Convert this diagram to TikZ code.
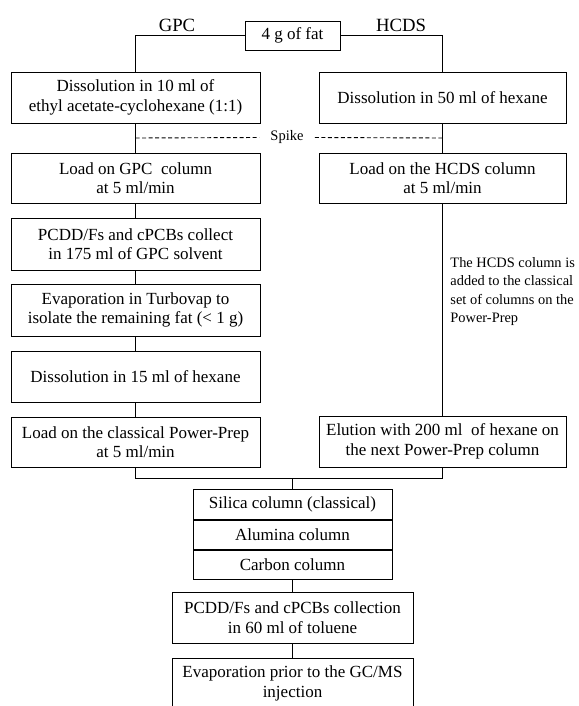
\documentclass[tikz,border=0pt]{standalone}
\usepackage{fontspec}
\setmainfont{Liberation Serif}
\usetikzlibrary{calc}
\begin{document}
\begin{tikzpicture}[x=1pt,y=-1pt,
  line width=0.9pt,
  box/.style={draw, line width=0.9pt, align=center, inner sep=0pt,
    font=\fontsize{17}{19.5}\selectfont, minimum height=51pt},
  lbox/.style={box, minimum width=249pt},
  rbox/.style={box, minimum width=247pt},
  cbox/.style={box, minimum width=199pt, minimum height=29pt},
  lab/.style={inner sep=0pt, font=\fontsize{18.7}{20}\selectfont},
  conn/.style={draw, line width=0.9pt},
  spk/.style={conn, dash pattern=on 4pt off 2.5pt}]
\useasboundingbox (0,0) rectangle (578,706);

% top
\node[box, minimum width=95pt, minimum height=29pt] (fat) at (292.5,35.5) {4 g of fat};
\node[lab] (gpc) at (177,25) {GPC};
\node[lab] (hcds) at (401,25) {HCDS};

% left column
\node[lbox] (b1l) at (135.5,97.5) {Dissolution in 10 ml of\\ethyl acetate-cyclohexane (1:1)};
\node[lbox, minimum height=50pt] (b2l) at (135.5,178) {Load on GPC\ \ column\\at 5 ml/min};
\node[lbox, minimum height=52pt] (b3l) at (135.5,244) {PCDD/Fs and cPCBs collect\\in 175 ml of GPC solvent};
\node[lbox, minimum height=52pt] (b4l) at (135.5,310) {Evaporation in Turbovap to\\isolate the remaining fat (< 1 g)};
\node[lbox] (b5l) at (135.5,376.5) {Dissolution in 15 ml of hexane};
\node[lbox, minimum height=50pt] (b6l) at (135.5,442) {Load on the classical Power-Prep\\at 5 ml/min};

% right column
\node[rbox] (b1r) at (442.5,97.5) {Dissolution in 50 ml of hexane};
\node[rbox, minimum height=50pt] (b2r) at (442.5,178) {Load on the HCDS column\\at 5 ml/min};
\node[rbox] (el) at (442.5,441.5) {Elution with 200 ml\ \ of hexane on\\the next Power-Prep column};
\node[anchor=north west, inner sep=0pt, align=left,
  font=\fontsize{14.4}{18.3}\selectfont] (note) at (450,257)
  {The HCDS column is\\added to the classical\\set of columns on the\\Power-Prep};

% spike
\node[inner sep=0pt, inner xsep=11pt, font=\fontsize{14.5}{16}\selectfont] (spike) at (287,137.5) {Spike};
\coordinate (spl) at ($(b1l.south)!0.5!(b2l.north)$);
\coordinate (spr) at ($(b1r.south)!0.5!(b2r.north)$);

% bottom stack
\node[cbox, minimum height=30pt] (sil) at (292.5,504.5) {Silica column (classical)};
\node[cbox, anchor=north] (alu) at (sil.south) {Alumina column};
\node[cbox, anchor=north] (car) at (alu.south) {Carbon column};
\node[box, minimum width=241pt] (coll) at (292.5,617.5) {PCDD/Fs and cPCBs collection\\in 60 ml of toluene};
\node[box, minimum width=241pt] (evap) at (292.5,683.5) {Evaporation prior to the GC/MS\\injection};
\coordinate (mj) at (292.5,478.5);

% connectors
\draw[conn] (fat.west) -| (b1l.north);
\draw[conn] (fat.east) -| (b1r.north);
\draw[conn] (b1l.south) -- (b2l.north);
\draw[conn] (b1r.south) -- (b2r.north);
\draw[spk] (spl) -- (spike.west);
\draw[spk] (spike.east) -- (spr);
\draw[conn] (b2l.south) -- (b3l.north);
\draw[conn] (b3l.south) -- (b4l.north);
\draw[conn] (b4l.south) -- (b5l.north);
\draw[conn] (b5l.south) -- (b6l.north);
\draw[conn] (b2r.south) -- (el.north);
\draw[conn] (b6l.south) |- (mj) -| (el.south);
\draw[conn] (mj) -- (sil.north);
\draw[conn] (car.south) -- (coll.north);
\draw[conn] (coll.south) -- (evap.north);
\end{tikzpicture}
\end{document}
